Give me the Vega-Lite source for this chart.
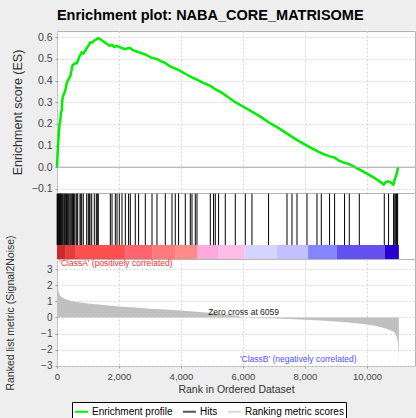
{
  "$schema": "https://vega.github.io/schema/vega-lite/v6.json",
  "background": "#eeeeee",
  "padding": {"left": 4, "top": 8, "right": 1, "bottom": 0},
  "spacing": 0,
  "bounds": "flush",
  "title": {"text": "Enrichment plot: NABA_CORE_MATRISOME", "font": "Liberation Sans", "fontSize": 14.5, "fontWeight": "bold", "color": "#000000", "anchor": "middle", "offset": 7},
  "config": {
    "font": "Liberation Sans",
    "view": {"fill": "#ffffff", "stroke": "#b4b4b4", "strokeWidth": 1},
    "axis": {"labelFont": "Liberation Sans", "titleFont": "Liberation Sans", "labelColor": "#444444", "titleColor": "#333333", "titleFontWeight": "normal", "gridColor": "#d6d6d6", "gridDash": [2, 2], "domain": false, "tickColor": "#999999", "tickSize": 2, "labelOverlap": false}
  },
  "resolve": {"scale": {"stroke": "independent", "color": "independent"}, "legend": {"stroke": "independent", "color": "independent"}},
  "datasets": {
    "es": [
      {"rank": 0, "es": 0.0}, {"rank": 15, "es": 0.05}, {"rank": 35, "es": 0.1}, {"rank": 60, "es": 0.16}, {"rank": 85, "es": 0.2}, {"rank": 110, "es": 0.22}, {"rank": 125, "es": 0.25}, {"rank": 150, "es": 0.26}, {"rank": 171, "es": 0.31}, {"rank": 200, "es": 0.33}, {"rank": 230, "es": 0.34}, {"rank": 260, "es": 0.35}, {"rank": 290, "es": 0.37}, {"rank": 320, "es": 0.39}, {"rank": 350, "es": 0.4}, {"rank": 390, "es": 0.41}, {"rank": 430, "es": 0.42}, {"rank": 460, "es": 0.44}, {"rank": 500, "es": 0.47}, {"rank": 540, "es": 0.475}, {"rank": 600, "es": 0.48}, {"rank": 640, "es": 0.48}, {"rank": 680, "es": 0.495}, {"rank": 720, "es": 0.51}, {"rank": 760, "es": 0.52}, {"rank": 800, "es": 0.53}, {"rank": 850, "es": 0.525}, {"rank": 900, "es": 0.535}, {"rank": 960, "es": 0.55}, {"rank": 1010, "es": 0.56}, {"rank": 1070, "es": 0.575}, {"rank": 1130, "es": 0.575}, {"rank": 1200, "es": 0.585}, {"rank": 1270, "es": 0.59}, {"rank": 1330, "es": 0.595}, {"rank": 1400, "es": 0.59}, {"rank": 1500, "es": 0.58}, {"rank": 1600, "es": 0.57}, {"rank": 1700, "es": 0.56}, {"rank": 1770, "es": 0.565}, {"rank": 1850, "es": 0.555}, {"rank": 1930, "es": 0.56}, {"rank": 2000, "es": 0.555}, {"rank": 2090, "es": 0.55}, {"rank": 2200, "es": 0.545}, {"rank": 2300, "es": 0.55}, {"rank": 2360, "es": 0.55}, {"rank": 2450, "es": 0.54}, {"rank": 2550, "es": 0.535}, {"rank": 2650, "es": 0.53}, {"rank": 2850, "es": 0.52}, {"rank": 3050, "es": 0.505}, {"rank": 3220, "es": 0.5}, {"rank": 3350, "es": 0.49}, {"rank": 3500, "es": 0.48}, {"rank": 3650, "es": 0.465}, {"rank": 3900, "es": 0.45}, {"rank": 4150, "es": 0.43}, {"rank": 4350, "es": 0.415}, {"rank": 4500, "es": 0.405}, {"rank": 4700, "es": 0.39}, {"rank": 4950, "es": 0.375}, {"rank": 5100, "es": 0.36}, {"rank": 5300, "es": 0.345}, {"rank": 5500, "es": 0.325}, {"rank": 5750, "es": 0.3}, {"rank": 6000, "es": 0.28}, {"rank": 6300, "es": 0.255}, {"rank": 6600, "es": 0.23}, {"rank": 6850, "es": 0.205}, {"rank": 7100, "es": 0.185}, {"rank": 7420, "es": 0.155}, {"rank": 7750, "es": 0.125}, {"rank": 8060, "es": 0.1}, {"rank": 8380, "es": 0.075}, {"rank": 8600, "es": 0.06}, {"rank": 8800, "es": 0.05}, {"rank": 8950, "es": 0.045}, {"rank": 9100, "es": 0.03}, {"rank": 9270, "es": 0.02}, {"rank": 9420, "es": 0.015}, {"rank": 9550, "es": 0.005}, {"rank": 9750, "es": -0.01}, {"rank": 10000, "es": -0.03}, {"rank": 10250, "es": -0.05}, {"rank": 10450, "es": -0.07}, {"rank": 10540, "es": -0.08}, {"rank": 10600, "es": -0.07}, {"rank": 10690, "es": -0.065}, {"rank": 10760, "es": -0.07}, {"rank": 10850, "es": -0.08}, {"rank": 10890, "es": -0.06}, {"rank": 10925, "es": -0.045}, {"rank": 10960, "es": -0.03}, {"rank": 10990, "es": -0.01}, {"rank": 11010, "es": 0.0}
    ],
    "hits": [
      {"rank": 5}, {"rank": 20}, {"rank": 45}, {"rank": 65}, {"rank": 85}, {"rank": 105}, {"rank": 119}, {"rank": 140}, {"rank": 171}, {"rank": 195}, {"rank": 226}, {"rank": 250}, {"rank": 281}, {"rank": 310}, {"rank": 332}, {"rank": 360}, {"rank": 387}, {"rank": 420}, {"rank": 452}, {"rank": 480}, {"rank": 506}, {"rank": 530}, {"rank": 558}, {"rank": 613}, {"rank": 640}, {"rank": 668}, {"rank": 742}, {"rank": 770}, {"rank": 797}, {"rank": 848}, {"rank": 958}, {"rank": 1010}, {"rank": 1040}, {"rank": 1065}, {"rank": 1120}, {"rank": 1203}, {"rank": 1268}, {"rank": 1300}, {"rank": 1332},
      {"rank": 1720}, {"rank": 1775}, {"rank": 1881}, {"rank": 1936}, {"rank": 2010}, {"rank": 2097}, {"rank": 2204}, {"rank": 2310}, {"rank": 2365}, {"rank": 2526}, {"rank": 2633}, {"rank": 2849}, {"rank": 3065}, {"rank": 3226}, {"rank": 3494}, {"rank": 3710}, {"rank": 3816}, {"rank": 3923}, {"rank": 4139}, {"rank": 4300}, {"rank": 4355}, {"rank": 4461}, {"rank": 4516}, {"rank": 4946}, {"rank": 5052}, {"rank": 5107}, {"rank": 5213}, {"rank": 5429}, {"rank": 5752}, {"rank": 6075}, {"rank": 6290}, {"rank": 6826}, {"rank": 7420}, {"rank": 7581}, {"rank": 7743}, {"rank": 8065}, {"rank": 8388}, {"rank": 8527}, {"rank": 8794}, {"rank": 8956}, {"rank": 9278}, {"rank": 9430}, {"rank": 9753}, {"rank": 10559}, {"rank": 10698}, {"rank": 10859}, {"rank": 10898}, {"rank": 10930}, {"rank": 10950}, {"rank": 10968}, {"rank": 10990}
    ],
    "band": [
      {"band": 1, "start": 0, "end": 260}, {"band": 2, "start": 260, "end": 580}, {"band": 3, "start": 580, "end": 2200}, {"band": 4, "start": 2200, "end": 3070}, {"band": 5, "start": 3070, "end": 3810}, {"band": 6, "start": 3810, "end": 4520}, {"band": 7, "start": 4520, "end": 5200}, {"band": 8, "start": 5200, "end": 6060}, {"band": 9, "start": 6060, "end": 7100}, {"band": 10, "start": 7100, "end": 8100}, {"band": 11, "start": 8100, "end": 9030}, {"band": 12, "start": 9030, "end": 10580}, {"band": 13, "start": 10580, "end": 11030}
    ],
    "metric": [
      {"rank": 0, "score": 2.3}, {"rank": 20, "score": 1.9}, {"rank": 50, "score": 1.6}, {"rank": 100, "score": 1.35}, {"rank": 200, "score": 1.2}, {"rank": 400, "score": 1.05}, {"rank": 700, "score": 0.95}, {"rank": 1000, "score": 0.87}, {"rank": 1500, "score": 0.77}, {"rank": 2000, "score": 0.69}, {"rank": 2500, "score": 0.62}, {"rank": 3000, "score": 0.55}, {"rank": 3500, "score": 0.49}, {"rank": 4000, "score": 0.43}, {"rank": 4500, "score": 0.36}, {"rank": 5000, "score": 0.28}, {"rank": 5500, "score": 0.18}, {"rank": 5800, "score": 0.1}, {"rank": 6059, "score": 0.0}, {"rank": 6300, "score": -0.03}, {"rank": 7000, "score": -0.06}, {"rank": 7500, "score": -0.1}, {"rank": 8000, "score": -0.14}, {"rank": 8500, "score": -0.19}, {"rank": 9000, "score": -0.25}, {"rank": 9500, "score": -0.33}, {"rank": 10000, "score": -0.44}, {"rank": 10300, "score": -0.53}, {"rank": 10600, "score": -0.68}, {"rank": 10800, "score": -0.82}, {"rank": 10900, "score": -0.95}, {"rank": 10960, "score": -1.2}, {"rank": 11000, "score": -1.6}, {"rank": 11020, "score": -2.2}, {"rank": 11030, "score": -2.7}
    ]
  },
  "vconcat": [
    {
      "width": 358,
      "height": 162,
      "layer": [
        {
          "data": {"name": "es"},
          "mark": {"type": "line", "strokeWidth": 2.5},
          "encoding": {
            "x": {"field": "rank", "type": "quantitative", "scale": {"domain": [0, 11550], "nice": false}, "axis": {"labels": false, "ticks": false, "title": null, "grid": true, "values": [0, 2000, 4000, 6000, 8000, 10000]}},
            "y": {"field": "es", "type": "quantitative", "scale": {"domain": [-0.119, 0.6285], "nice": false, "zero": false}, "axis": {"values": [-0.1, 0, 0.1, 0.2, 0.3, 0.4, 0.5, 0.6], "format": ".1f", "title": "Enrichment score (ES)", "titleFontSize": 12.5, "labelFontSize": 10.5, "minExtent": 30, "maxExtent": 30, "titlePadding": 3, "labelPadding": 3, "grid": true, "labelOverlap": false, "labelBound": false, "labelFlush": false}},
            "stroke": {"datum": "Enrichment profile", "type": "nominal", "scale": {"domain": ["Enrichment profile", "Hits", "Ranking metric scores"], "range": ["#00ee00", "#555555", "#d8d8d8"]}, "legend": {"orient": "none", "legendX": 15, "legendY": 371, "direction": "horizontal", "title": null, "strokeColor": "#000000", "fillColor": "#ffffff", "padding": 2, "symbolType": "stroke", "symbolSize": 169, "symbolStrokeWidth": 2, "labelFontSize": 10, "labelColor": "#000000", "labelFont": "Liberation Sans", "columnPadding": 6, "labelOffset": 3}}
          }
        },
        {
          "data": {"values": [{}]},
          "mark": {"type": "rule", "color": "#a8a8a8", "strokeWidth": 1},
          "encoding": {"y": {"datum": 0, "type": "quantitative", "scale": {"domain": [-0.119, 0.6285], "nice": false, "zero": false}, "axis": {"values": [-0.1, 0, 0.1, 0.2, 0.3, 0.4, 0.5, 0.6], "format": ".1f", "title": "Enrichment score (ES)", "titleFontSize": 12.5, "labelFontSize": 10.5, "minExtent": 30, "maxExtent": 30, "titlePadding": 3, "labelPadding": 3, "grid": true, "labelOverlap": false, "labelBound": false, "labelFlush": false}}}
        }
      ]
    },
    {
      "width": 358,
      "height": 66,
      "layer": [
        {
          "data": {"name": "band"},
          "mark": {"type": "rect"},
          "encoding": {
            "x": {"field": "start", "type": "quantitative", "scale": {"domain": [0, 11550], "nice": false}, "axis": null},
            "x2": {"field": "end"},
            "y": {"datum": 0, "type": "quantitative", "scale": {"domain": [0, 1], "nice": false}, "axis": null},
            "y2": {"datum": 0.212},
            "color": {"field": "band", "type": "ordinal", "scale": {"domain": [1, 2, 3, 4, 5, 6, 7, 8, 9, 10, 11, 12, 13], "range": ["#cc2a2a", "#e63c3c", "#ff5050", "#ff6470", "#ff7a7a", "#ff8a8a", "#ffaadc", "#ffbde6", "#d4d4ff", "#c4bfff", "#8585ff", "#6450ee", "#2800cc"]}, "legend": null}
          }
        },
        {
          "data": {"name": "hits"},
          "mark": {"type": "rule", "color": "#000000", "strokeWidth": 1},
          "encoding": {
            "x": {"field": "rank", "type": "quantitative", "scale": {"domain": [0, 11550], "nice": false}, "axis": null},
            "y": {"datum": 0.212, "type": "quantitative", "scale": {"domain": [0, 1], "nice": false}, "axis": null},
            "y2": {"datum": 0.99}
          }
        }
      ]
    },
    {
      "width": 358,
      "height": 107,
      "encoding": {
        "x": {"type": "quantitative", "scale": {"domain": [0, 11550], "nice": false}, "axis": {"values": [0, 2000, 4000, 6000, 8000, 10000], "format": ",d", "labelFontSize": 9.5, "title": "Rank in Ordered Dataset", "titleFontSize": 10.5, "labelPadding": 3, "titlePadding": 4, "grid": true, "labelOverlap": false, "labelFlush": false}},
        "y": {"type": "quantitative", "scale": {"domain": [-3.02, 3.64], "nice": false, "zero": false}, "axis": {"values": [-3, -2, -1, 0, 1, 2, 3], "title": "Ranked list metric (Signal2Noise)", "titleFontSize": 10.5, "labelFontSize": 10, "minExtent": 30, "maxExtent": 30, "titlePadding": 12, "labelPadding": 3, "grid": true, "labelOverlap": false, "labelBound": false, "labelFlush": false}}
      },
      "layer": [
        {
          "data": {"name": "metric"},
          "mark": {"type": "area", "color": "#c0c0c0"},
          "encoding": {"x": {"field": "rank"}, "y": {"field": "score"}}
        },
        {
          "data": {"values": [{}]},
          "mark": {"type": "text", "text": "'ClassA' (positively correlated)", "align": "left", "baseline": "middle", "color": "#ee3030", "fontSize": 8.5},
          "encoding": {"x": {"datum": 74}, "y": {"datum": 3.39}}
        },
        {
          "data": {"values": [{}]},
          "mark": {"type": "text", "text": "Zero cross at 6059", "align": "center", "baseline": "middle", "color": "#222222", "fontSize": 8.5},
          "encoding": {"x": {"datum": 6020}, "y": {"datum": 0.35}}
        },
        {
          "data": {"values": [{}]},
          "mark": {"type": "text", "text": "'ClassB' (negatively correlated)", "align": "center", "baseline": "middle", "color": "#4f4fff", "fontSize": 8.5},
          "encoding": {"x": {"datum": 7784}, "y": {"datum": -2.57}}
        }
      ]
    }
  ]
}
